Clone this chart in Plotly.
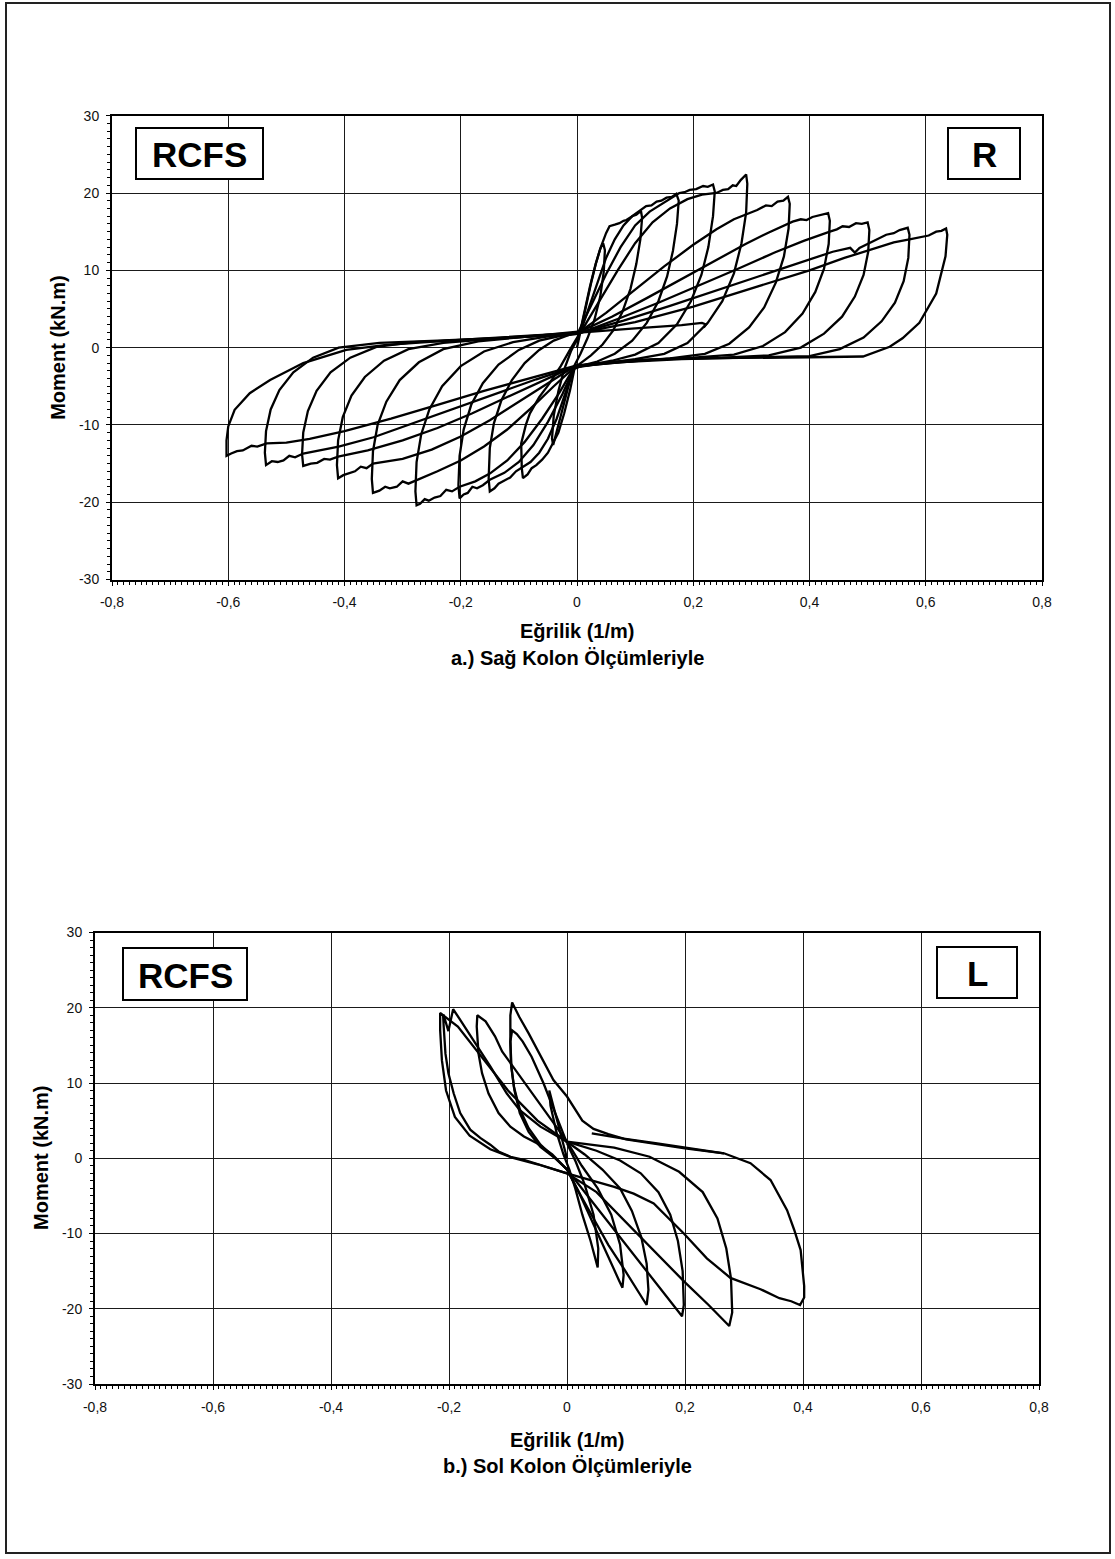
import plotly.graph_objects as go

W, H = 1115, 1559

# ---------------- panel a) right column : curvature (1/m) and moment (kN.m), one pair per cycle
sag_c1_x = [0.000, 0.008, 0.016, 0.025, 0.033, 0.040, 0.045, 0.048, 0.046, 0.040, 0.030, 0.018, 0.006,
            -0.005, -0.014, -0.022, -0.030, -0.036, -0.041, -0.043, -0.040, -0.032, -0.022, -0.010, 0.004]
sag_c1_m = [0.0, 2.8, 5.8, 8.6, 11.0, 12.8, 13.5, 12.6, 9.8, 6.6, 3.6, 1.2, -0.8,
            -2.4, -4.8, -7.2, -9.4, -11.2, -12.6, -11.8, -8.8, -5.6, -2.8, -0.4, 1.6]

sag_c2_x = [0.004, 0.012, 0.022, 0.032, 0.041, 0.050, 0.056, 0.065, 0.073, 0.080, 0.085, 0.095, 0.102, 0.110,
            0.112, 0.109, 0.102, 0.092, 0.078, 0.062, 0.044, 0.024, 0.008,
            -0.004, -0.012, -0.022, -0.032, -0.041, -0.050, -0.060, -0.070, -0.078, -0.085, -0.093,
            -0.095, -0.096, -0.088, -0.081, -0.065, -0.047, -0.028, -0.010, 0.006]
sag_c2_m = [1.6, 4.5, 7.8, 10.8, 13.0, 14.8, 15.7, 15.9, 16.1, 16.4, 16.5, 17.0, 17.2, 17.7,
            16.8, 14.0, 10.8, 7.6, 4.6, 2.2, 0.4, -1.0, -1.9,
            -2.6, -5.5, -8.5, -11.0, -12.4, -13.6, -14.5, -15.2, -15.6, -16.4, -16.9,
            -15.6, -12.4, -10.0, -8.5, -6.4, -4.6, -2.4, 0.0, 2.0]

sag_c3_x = [0.006, 0.020, 0.035, 0.050, 0.065, 0.080, 0.095, 0.111, 0.119, 0.128, 0.137, 0.145, 0.154, 0.163, 0.171,
            0.175, 0.172, 0.165, 0.155, 0.140, 0.120, 0.095, 0.065, 0.035, 0.010,
            -0.006, -0.020, -0.035, -0.050, -0.065, -0.080, -0.093, -0.105, -0.115, -0.125, -0.135, -0.142, -0.150,
            -0.152, -0.150, -0.143, -0.130, -0.112, -0.090, -0.065, -0.040, -0.015, 0.003]
sag_c3_m = [2.0, 5.0, 8.5, 11.6, 14.0, 15.8, 17.0, 17.8, 18.3, 18.4, 18.9, 19.0, 19.4, 19.5, 19.9,
            19.0, 16.0, 12.5, 9.2, 6.0, 3.2, 0.9, -0.8, -1.8, -2.3,
            -2.8, -6.0, -9.2, -11.8, -13.6, -14.8, -15.4, -16.0, -16.8, -17.2, -17.6, -18.2, -18.6,
            -17.0, -13.0, -9.8, -6.8, -4.2, -2.0, -0.3, 0.9, 1.6, 2.1]

sag_c4_x = [0.003, 0.025, 0.050, 0.075, 0.100, 0.125, 0.150, 0.176, 0.185, 0.194, 0.205, 0.217, 0.225, 0.234,
            0.237, 0.234, 0.226, 0.214, 0.196, 0.172, 0.140, 0.100, 0.060, 0.025,
            -0.004, -0.025, -0.050, -0.075, -0.100, -0.125, -0.150, -0.162, -0.172, -0.180, -0.188, -0.195, -0.202,
            -0.204, -0.202, -0.195, -0.182, -0.162, -0.135, -0.100, -0.065, -0.030, 0.005]
sag_c4_m = [2.1, 5.5, 9.5, 13.0, 15.8, 17.6, 18.8, 20.0, 20.1, 20.4, 20.5, 20.9, 20.8, 21.1,
            20.2, 17.0, 13.0, 9.4, 6.0, 3.0, 0.6, -0.9, -1.7, -2.2,
            -2.5, -6.0, -9.6, -12.6, -14.8, -16.2, -17.1, -17.8, -18.2, -18.0, -18.8, -19.0, -19.5,
            -17.8, -14.0, -10.6, -7.4, -4.6, -2.2, -0.3, 0.9, 1.5, 1.8]

sag_c5_x = [0.005, 0.035, 0.070, 0.100, 0.130, 0.160, 0.190, 0.215, 0.240, 0.251, 0.260, 0.268, 0.274, 0.282, 0.288, 0.291,
            0.293, 0.291, 0.283, 0.270, 0.250, 0.225, 0.190, 0.150, 0.100, 0.050,
            -0.003, -0.030, -0.060, -0.090, -0.120, -0.150, -0.175, -0.202, -0.215, -0.225, -0.235, -0.245, -0.255, -0.262, -0.270, -0.276,
            -0.278, -0.276, -0.268, -0.254, -0.232, -0.200, -0.160, -0.110, -0.055, 0.004]
sag_c5_m = [1.8, 5.5, 10.0, 13.5, 16.2, 18.0, 19.2, 19.8, 20.0, 20.4, 20.5, 21.0, 20.9, 21.7, 22.2, 22.4,
            21.2, 17.5, 13.5, 9.6, 6.0, 3.2, 0.6, -0.8, -1.5, -2.0,
            -2.3, -5.8, -9.2, -12.2, -14.6, -16.3, -17.3, -18.0, -18.6, -18.4, -19.2, -19.4, -19.8, -19.6, -20.2, -20.4,
            -18.6, -14.8, -11.2, -8.0, -5.0, -2.4, -0.5, 0.7, 1.4, 2.0]

sag_c6_x = [0.004, 0.050, 0.100, 0.150, 0.200, 0.240, 0.270, 0.295, 0.310, 0.325, 0.335, 0.345, 0.355, 0.363,
            0.366, 0.364, 0.356, 0.342, 0.322, 0.296, 0.262, 0.220, 0.160, 0.090, 0.030,
            -0.005, -0.040, -0.080, -0.120, -0.160, -0.200, -0.240, -0.276, -0.290, -0.300, -0.310, -0.322, -0.330, -0.340, -0.351,
            -0.353, -0.351, -0.343, -0.328, -0.305, -0.272, -0.230, -0.170, -0.090, 0.006]
sag_c6_m = [2.0, 4.5, 7.5, 10.5, 13.3, 15.3, 16.6, 17.4, 17.8, 18.4, 18.3, 18.9, 19.0, 19.5,
            18.6, 15.4, 11.8, 8.4, 5.2, 2.6, 0.5, -0.8, -1.4, -1.8, -2.2,
            -2.6, -5.0, -7.9, -10.6, -12.8, -14.6, -16.0, -17.1, -17.6, -17.3, -18.0, -18.2, -18.0, -18.5, -18.8,
            -17.0, -13.4, -10.0, -7.0, -4.2, -1.9, -0.2, 0.8, 1.4, 2.1]

sag_c7_x = [0.006, 0.060, 0.120, 0.180, 0.240, 0.290, 0.330, 0.360, 0.371, 0.385, 0.395, 0.405, 0.418, 0.432,
            0.435, 0.433, 0.425, 0.410, 0.388, 0.358, 0.320, 0.270, 0.200, 0.120, 0.050,
            -0.006, -0.050, -0.100, -0.150, -0.200, -0.250, -0.300, -0.351, -0.362, -0.372, -0.382, -0.393, -0.402, -0.411,
            -0.413, -0.411, -0.403, -0.388, -0.365, -0.332, -0.290, -0.230, -0.150, -0.070, 0.003]
sag_c7_m = [2.1, 4.0, 6.4, 8.9, 11.4, 13.4, 14.9, 15.9, 16.3, 16.6, 16.5, 16.9, 17.1, 17.4,
            16.4, 13.4, 10.2, 7.2, 4.4, 2.0, 0.2, -0.9, -1.3, -1.6, -2.0,
            -2.5, -4.6, -7.0, -9.4, -11.5, -13.2, -14.4, -15.0, -15.6, -15.4, -16.0, -16.3, -16.5, -16.9,
            -15.2, -12.0, -9.0, -6.2, -3.8, -1.7, -0.2, 0.6, 1.1, 1.5, 1.8]

sag_c8_x = [0.003, 0.070, 0.140, 0.210, 0.280, 0.340, 0.390, 0.435, 0.447, 0.457, 0.468, 0.480, 0.490, 0.500,
            0.503, 0.501, 0.493, 0.478, 0.456, 0.425, 0.385, 0.330, 0.250, 0.150, 0.060,
            -0.004, -0.060, -0.120, -0.180, -0.240, -0.300, -0.360, -0.411, -0.425, -0.435, -0.447, -0.458, -0.471,
            -0.473, -0.471, -0.463, -0.448, -0.424, -0.390, -0.345, -0.280, -0.190, -0.090, 0.005]
sag_c8_m = [1.8, 3.7, 5.8, 8.0, 10.3, 12.3, 13.8, 15.0, 15.3, 15.7, 15.6, 16.1, 16.0, 16.2,
            15.2, 12.4, 9.4, 6.6, 4.0, 1.8, 0.0, -1.0, -1.3, -1.5, -1.9,
            -2.4, -4.3, -6.4, -8.5, -10.4, -12.0, -13.3, -14.1, -14.5, -14.4, -14.9, -15.0, -15.3,
            -13.8, -11.0, -8.2, -5.6, -3.2, -1.3, 0.1, 0.7, 1.0, 1.4, 1.9]

sag_c9_x = [0.005, 0.080, 0.160, 0.240, 0.320, 0.390, 0.440, 0.470, 0.478, 0.486, 0.503, 0.515, 0.532, 0.545, 0.555, 0.569,
            0.572, 0.570, 0.562, 0.547, 0.524, 0.493, 0.452, 0.400, 0.300, 0.180, 0.070,
            -0.005, -0.070, -0.140, -0.210, -0.280, -0.350, -0.410, -0.471, -0.485, -0.495, -0.505, -0.515, -0.525, -0.535,
            -0.537, -0.535, -0.527, -0.512, -0.488, -0.454, -0.410, -0.340, -0.240, -0.120, 0.004]
sag_c9_m = [1.9, 3.5, 5.4, 7.4, 9.5, 11.2, 12.4, 12.9, 12.3, 12.9, 13.5, 13.9, 14.6, 14.8, 15.2, 15.5,
            14.6, 11.6, 8.6, 5.8, 3.4, 1.3, -0.2, -1.1, -1.3, -1.5, -1.9,
            -2.5, -4.1, -6.0, -7.9, -9.8, -11.6, -12.8, -13.7, -14.2, -14.0, -14.6, -14.8, -14.7, -15.2,
            -13.6, -10.8, -8.0, -5.5, -3.2, -1.3, 0.0, 0.6, 0.9, 1.3, 1.9]

sag_c10_x = [0.004, 0.100, 0.200, 0.300, 0.400, 0.460, 0.510, 0.545, 0.572, 0.585, 0.595, 0.605, 0.618, 0.627, 0.635,
             0.637, 0.634, 0.618, 0.589, 0.560, 0.538, 0.492, 0.400, 0.300, 0.200, 0.100, 0.040,
             -0.005, -0.080, -0.160, -0.240, -0.320, -0.400, -0.460, -0.500, -0.534, -0.550, -0.560, -0.575, -0.585, -0.595, -0.603,
             -0.603, -0.600, -0.589, -0.563, -0.528, -0.471, -0.397, -0.328, -0.202, -0.001, 0.100, 0.180, 0.215, 0.222, 0.218]
sag_c10_m = [1.9, 3.3, 5.3, 7.6, 10.0, 11.6, 12.8, 13.6, 14.0, 14.2, 14.4, 14.5, 15.0, 15.1, 15.4,
             14.6, 11.8, 7.0, 3.2, 1.2, 0.1, -1.15, -1.25, -1.3, -1.4, -1.6, -2.0,
             -2.4, -3.9, -5.6, -7.4, -9.2, -10.8, -11.8, -12.3, -12.4, -12.8, -12.7, -13.3, -13.4, -13.7, -14.0,
             -12.0, -10.2, -8.05, -5.9, -4.2, -2.0, -0.3, 0.36, 1.0, 1.9, 2.5, 2.9, 3.2, 3.0, 2.6]

# ---------------- panel b) left column
sol_c1_x = [0.000, -0.008, -0.016, -0.024, -0.030, -0.028, -0.018, -0.006, 0.004, 0.014, 0.026, 0.040, 0.052,
            0.053, 0.045, 0.030, 0.015, 0.000]
sol_c1_m = [0.0, 2.5, 5.0, 7.5, 9.0, 7.0, 3.5, 0.5, -1.5, -4.0, -7.5, -11.0, -14.5,
            -12.0, -7.5, -3.5, -0.5, 2.0]

sol_c2_x = [0.000, -0.020, -0.040, -0.060, -0.075, -0.085, -0.093, -0.096, -0.095, -0.090, -0.080, -0.065, -0.045, -0.020,
            0.000, 0.020, 0.040, 0.060, 0.075, 0.088, 0.094, 0.096, 0.090, 0.075, 0.052, 0.025, 0.000]
sol_c2_m = [2.0, 6.0, 10.0, 13.5, 15.5, 16.5, 17.0, 15.5, 12.5, 9.5, 6.5, 4.0, 1.8, 0.0,
            -1.5, -4.5, -8.0, -11.5, -14.0, -16.2, -17.2, -15.5, -11.5, -7.5, -4.0, -1.0, 2.2]

sol_c3_x = [0.266, 0.230, 0.200, 0.150, 0.100, 0.070, 0.045, 0.026, 0.000, -0.023, -0.046, -0.065, -0.081, -0.093,
            -0.096, -0.096, -0.094, -0.089, -0.080, -0.065, -0.045, -0.020, 0.000,
            0.020, 0.045, 0.070, 0.095, 0.115, 0.135, 0.138, 0.135, 0.126, 0.110, 0.090, 0.060, 0.030, 0.000]
sol_c3_m = [0.66, 1.0, 1.3, 1.9, 2.5, 3.2, 3.9, 5.0, 8.2, 10.4, 13.9, 16.6, 18.8, 20.7,
            19.0, 15.5, 12.0, 9.0, 6.0, 3.5, 1.5, 0.0, -1.5,
            -4.5, -8.0, -11.5, -14.5, -17.0, -19.5, -17.5, -14.0, -10.5, -7.0, -4.0, -1.5, 0.5, 2.2]

sol_c4_x = [0.000, -0.030, -0.060, -0.085, -0.110, -0.122, -0.138, -0.152,
            -0.153, -0.150, -0.144, -0.133, -0.116, -0.096, -0.073, -0.051, -0.025, 0.000,
            0.030, 0.060, 0.090, 0.120, 0.150, 0.175, 0.195,
            0.198, 0.196, 0.188, 0.175, 0.155, 0.125, 0.090, 0.050, 0.000]
sol_c4_m = [2.2, 5.5, 8.8, 11.5, 14.2, 16.2, 18.2, 19.0,
            17.5, 13.9, 11.3, 8.6, 6.0, 4.2, 2.9, 2.0, 0.5, -1.5,
            -4.5, -7.5, -10.5, -13.5, -16.5, -19.0, -21.0,
            -19.5, -15.0, -11.0, -7.5, -4.5, -2.0, -0.3, 1.0, 2.2]

sol_c5_x = [0.000, -0.050, -0.100, -0.150, -0.185, -0.215,
            -0.215, -0.212, -0.205, -0.190, -0.165, -0.130, -0.090, -0.050, 0.000,
            0.050, 0.100, 0.150, 0.200, 0.240, 0.262, 0.275,
            0.280, 0.278, 0.270, 0.255, 0.230, 0.190, 0.140, 0.080, 0.000]
sol_c5_m = [2.2, 5.0, 9.0, 14.0, 17.5, 19.3,
            17.0, 13.0, 9.0, 5.5, 3.0, 1.2, 0.0, -0.8, -2.0,
            -4.5, -8.5, -12.5, -16.5, -19.5, -21.2, -22.3,
            -20.5, -16.0, -12.0, -8.0, -4.5, -1.8, 0.2, 1.4, 2.2]

sol_c6_x = [0.000, -0.045, -0.080, -0.102, -0.130, -0.158, -0.181, -0.193, -0.201, -0.209, -0.210,
            -0.209, -0.206, -0.201, -0.192, -0.181, -0.164, -0.147, -0.130, -0.116, -0.096, -0.073, -0.045, -0.017, 0.000,
            0.040, 0.080, 0.113, 0.147, 0.198, 0.237, 0.277, 0.328, 0.360, 0.380, 0.395,
            0.402, 0.402, 0.396, 0.385, 0.373, 0.345, 0.311, 0.266, 0.198, 0.150, 0.096, 0.042]
sol_c6_m = [2.2, 4.2, 6.4, 8.6, 12.2, 15.7, 18.4, 19.8, 16.9, 19.0, 19.0,
            17.5, 13.9, 11.3, 8.6, 6.0, 3.8, 2.7, 1.8, 0.9, 0.2, -0.2, -0.9, -1.6, -2.0,
            -2.9, -3.8, -4.7, -6.0, -10.0, -13.3, -15.9, -17.4, -18.6, -19.0, -19.5,
            -18.5, -17.0, -12.2, -9.5, -6.9, -2.9, -0.66, 0.66, 1.5, 2.0, 2.6, 3.3]

sag_cycles = [(sag_c1_x, sag_c1_m), (sag_c2_x, sag_c2_m), (sag_c3_x, sag_c3_m),
              (sag_c4_x, sag_c4_m), (sag_c5_x, sag_c5_m), (sag_c6_x, sag_c6_m),
              (sag_c7_x, sag_c7_m), (sag_c8_x, sag_c8_m), (sag_c9_x, sag_c9_m),
              (sag_c10_x, sag_c10_m)]
sol_cycles = [(sol_c1_x, sol_c1_m), (sol_c2_x, sol_c2_m), (sol_c3_x, sol_c3_m),
              (sol_c4_x, sol_c4_m), (sol_c5_x, sol_c5_m), (sol_c6_x, sol_c6_m)]

x_tick_vals = [-0.8, -0.6, -0.4, -0.2, 0.0, 0.2, 0.4, 0.6, 0.8]
x_tick_text = ["-0,8", "-0,6", "-0,4", "-0,2", "0", "0,2", "0,4", "0,6", "0,8"]
y_tick_vals = [-30, -20, -10, 0, 10, 20, 30]
y_tick_text = ["-30", "-20", "-10", "0", "10", "20", "30"]

FONT = "Liberation Sans, Arial, Helvetica, sans-serif"

fig = go.Figure()
for xs, ms in sag_cycles:
    fig.add_trace(go.Scatter(x=xs, y=ms, mode="lines", xaxis="x", yaxis="y",
                             line=dict(color="black", width=2.3), hoverinfo="skip",
                             showlegend=False))
for xs, ms in sol_cycles:
    fig.add_trace(go.Scatter(x=xs, y=ms, mode="lines", xaxis="x2", yaxis="y2",
                             line=dict(color="black", width=2.3), hoverinfo="skip",
                             showlegend=False))


def px(v):
    return v / W


def py(v):
    return 1 - v / H


def xaxis_style(domain, anchor):
    return dict(domain=domain, anchor=anchor, range=[-0.8, 0.8], tickmode="array",
                tickvals=x_tick_vals, ticktext=x_tick_text, showgrid=True,
                gridcolor="#1a1a1a", gridwidth=1, zeroline=False, showline=True,
                linecolor="black", linewidth=2, mirror=True, ticks="outside",
                ticklen=4, tickwidth=1, tickcolor="black", ticklabelstandoff=5,
                tickfont=dict(family=FONT, size=14, color="#111"),
                minor=dict(tickmode="linear", tick0=0, dtick=0.01, ticks="outside",
                           ticklen=3, tickwidth=1, tickcolor="black", showgrid=False),
                fixedrange=True)


def yaxis_style(domain, anchor):
    return dict(domain=domain, anchor=anchor, range=[-30, 30], tickmode="array",
                tickvals=y_tick_vals, ticktext=y_tick_text, showgrid=True,
                gridcolor="#1a1a1a", gridwidth=1, zeroline=False, showline=True,
                linecolor="black", linewidth=2, mirror=True, ticks="outside",
                ticklen=4, tickwidth=1, tickcolor="black", ticklabelstandoff=4,
                tickfont=dict(family=FONT, size=14, color="#111"),
                minor=dict(tickmode="linear", tick0=0, dtick=1, ticks="outside",
                           ticklen=3, tickwidth=1, tickcolor="black", showgrid=False),
                fixedrange=True)


layout = dict(
    width=W, height=H, margin=dict(l=0, r=0, t=0, b=0, autoexpand=False),
    paper_bgcolor="white", plot_bgcolor="white", showlegend=False,
    xaxis=xaxis_style([px(112), px(1042)], "y"),
    yaxis=yaxis_style([py(579.5), py(115.7)], "x"),
    xaxis2=xaxis_style([px(95), px(1039)], "y2"),
    yaxis2=yaxis_style([py(1384), py(932.5)], "x2"),
)
fig.update_layout(**layout)

shapes = [
    # page frame
    dict(type="rect", xref="paper", yref="paper", x0=px(6), x1=px(1110), y0=py(3), y1=py(1553),
         line=dict(color="#222", width=2), fillcolor="rgba(0,0,0,0)", layer="above"),
]
boxes = [
    (136, 263, 128, 179, "RCFS"),
    (948, 1020, 128, 179, "R"),
    (123, 247, 948, 1000, "RCFS"),
    (937, 1017, 947, 998, "L"),
]
annotations = []
for x0, x1, y0, y1, label in boxes:
    shapes.append(dict(type="rect", xref="paper", yref="paper", x0=px(x0), x1=px(x1),
                       y0=py(y1), y1=py(y0), line=dict(color="black", width=2),
                       fillcolor="white", layer="above"))
    annotations.append(dict(x=px((x0 + x1) / 2), y=py((y0 + y1) / 2 + 1), xref="paper", yref="paper",
                            text="<b>%s</b>" % label, showarrow=False, xanchor="center",
                            yanchor="middle", font=dict(family=FONT, size=35, color="black")))

texts = [
    (58, 347.8, "Moment (kN.m)", -90),
    (577, 631, "Eğrilik (1/m)", 0),
    (577, 658, "a.) Sağ Kolon Ölçümleriyle", 0),
    (41, 1158, "Moment (kN.m)", -90),
    (567, 1440, "Eğrilik (1/m)", 0),
    (567, 1466, "b.) Sol Kolon Ölçümleriyle", 0),
]
for x, y, t, ang in texts:
    annotations.append(dict(x=px(x), y=py(y), xref="paper", yref="paper", text="<b>%s</b>" % t,
                            showarrow=False, xanchor="center", yanchor="middle", textangle=ang,
                            font=dict(family=FONT, size=20, color="black")))

fig.update_layout(shapes=shapes, annotations=annotations)
fig.write_html("out.html", config={"displayModeBar": False})
